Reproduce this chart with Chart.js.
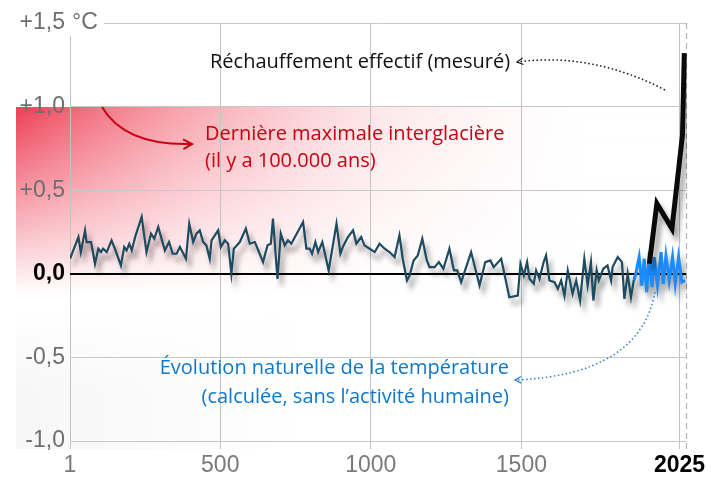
<!DOCTYPE html>
<html lang="fr">
<head>
<meta charset="utf-8">
<title>Température depuis l'an 1</title>
<script src="https://cdn.jsdelivr.net/npm/chart.js@4/dist/chart.umd.min.js"></script>
<style>
  html, body { margin: 0; padding: 0; background: #fff; }
  #wrap { position: relative; width: 711px; height: 477px; }
</style>
</head>
<body>
<div id="wrap"><canvas id="chart"></canvas></div>
<script>
// --- data ------------------------------------------------------------------
const PAST_YEARS = [
  1, 29, 37, 51, 56, 71, 84, 95, 104, 111,
  123, 139, 150, 170, 181, 189, 198, 206, 219, 239,
  255, 270, 281, 294, 316, 330, 342, 355, 366, 386,
  397, 410, 421, 432, 443, 454, 465, 471, 493, 502,
  515, 526, 537, 545, 565, 585, 598, 615, 642, 657,
  668, 675, 690, 701, 714, 725, 736, 775, 786, 797,
  805, 816, 825, 839, 860, 886, 899, 907, 924, 941,
  952, 968, 979, 996, 1013, 1029, 1046, 1062, 1079, 1095,
  1106, 1120, 1129, 1142, 1156, 1171, 1186, 1195, 1212, 1226,
  1241, 1261, 1276, 1287, 1300, 1333, 1361, 1380, 1397, 1408,
  1433, 1460, 1488, 1497, 1508, 1519, 1527, 1541, 1549, 1560,
  1574, 1582, 1593, 1610, 1621, 1632, 1643, 1654, 1670, 1682,
  1695, 1709, 1720, 1731, 1739, 1750, 1757, 1772, 1786, 1798,
  1803, 1820, 1834, 1842, 1853, 1864, 1875, 1886
];
const PAST_TEMP = [
  0.09, 0.22, 0.13, 0.26, 0.19, 0.19, 0.06, 0.15, 0.13, 0.15,
  0.13, 0.20, 0.15, 0.05, 0.16, 0.14, 0.18, 0.14, 0.23, 0.34,
  0.13, 0.24, 0.21, 0.28, 0.14, 0.19, 0.12, 0.12, 0.16, 0.09,
  0.30, 0.19, 0.24, 0.26, 0.19, 0.17, 0.09, 0.20, 0.26, 0.16,
  0.20, 0.18, 0.00, 0.15, 0.19, 0.27, 0.18, 0.19, 0.07, 0.17,
  0.18, 0.33, -0.03, 0.24, 0.17, 0.20, 0.18, 0.31, 0.15, 0.15,
  0.12, 0.19, 0.13, 0.19, 0.02, 0.30, 0.12, 0.16, 0.22, 0.26,
  0.18, 0.22, 0.17, 0.15, 0.13, 0.18, 0.15, 0.13, 0.10, 0.23,
  0.09, -0.04, -0.01, 0.08, 0.11, 0.21, 0.08, 0.04, 0.04, 0.07,
  0.03, 0.15, 0.02, 0.02, -0.05, 0.13, -0.07, 0.07, 0.08, 0.04,
  0.09, -0.14, -0.13, 0.06, -0.01, 0.07, -0.03, -0.06, 0.02, -0.03,
  0.07, 0.11, -0.04, -0.05, -0.09, -0.04, -0.13, 0.02, -0.12, -0.04,
  -0.16, 0.09, -0.07, 0.07, -0.16, 0.02, -0.04, 0.03, 0.05, -0.04,
  0.04, 0.10, 0.07, -0.15, 0.00, -0.14, -0.02, 0.01
];

// natural evolution (computed, without human activity)
const NATURAL_YEARS = [1875, 1891, 1900, 1908, 1916, 1925, 1934, 1941, 1952, 1964, 1971, 1980, 1991, 2002, 2011, 2022, 2033, 2044];
const NATURAL_TEMP  = [-0.04, 0.10, -0.07, 0.09, -0.11, 0.13, -0.08, 0.10, -0.07, 0.13, -0.06, 0.11, -0.04, 0.10, -0.06, 0.10, -0.05, -0.04];

// measured warming
const MEASURED_YEARS = [1925, 1950, 2000, 2035, 2041];
const MEASURED_TEMP  = [0.06, 0.42, 0.27, 0.83, 1.32];

const X_TICKS = [1, 500, 1000, 1500, 2025];
const Y_TICKS = [-1, -0.5, 0, 0.5, 1, 1.5];
const Y_TICK_LABELS = ['-1,0', '-0,5', '0,0', '+0,5', '+1,0', '+1,5'];

const pairs = (xs, ys) => xs.map((x, i) => ({ x, y: ys[i] }));

const TICK_FONT = 'Liberation Sans, Arial, sans-serif';
const NOTE_FONT = '"Open Sans", "Noto Sans", sans-serif';

// pink "interglacial" band + faint hatch behind the plot
const backdrop = {
  id: 'backdrop',
  beforeDraw(chart) {
    const { ctx, chartArea: a, scales: { y } } = chart;
    const left = 16;
    const right = Math.round(a.right);
    const top = Math.round(y.getPixelForValue(1.0));
    const fade = Math.round(y.getPixelForValue(-0.22));
    const bottom = Math.round(a.bottom + 8);
    ctx.save();

    // faint grey wash in the lower left, fading in from the top
    let g = ctx.createLinearGradient(left, 0, 300, 0);
    g.addColorStop(0, 'rgba(222,214,214,0.22)');
    g.addColorStop(1, 'rgba(222,214,214,0)');
    ctx.fillStyle = g;
    ctx.fillRect(left, fade, 300 - left, bottom - fade);
    g = ctx.createLinearGradient(0, fade, 0, fade + 80);
    g.addColorStop(0, 'rgba(255,255,255,1)');
    g.addColorStop(1, 'rgba(255,255,255,0)');
    ctx.fillStyle = g;
    ctx.fillRect(left, fade, 300 - left, 80);

    g = ctx.createLinearGradient(left, 0, 580, 0);
    g.addColorStop(0, 'rgba(236,45,70,0.92)');
    g.addColorStop(0.3, 'rgba(244,110,125,0.62)');
    g.addColorStop(0.65, 'rgba(248,170,180,0.28)');
    g.addColorStop(1, 'rgba(250,200,205,0)');
    ctx.fillStyle = g;
    ctx.fillRect(left, top, right - left, fade - top);
    g = ctx.createLinearGradient(0, top, 0, fade);
    g.addColorStop(0, 'rgba(255,255,255,0)');
    g.addColorStop(0.92, 'rgba(255,255,255,1)');
    g.addColorStop(1, 'rgba(255,255,255,1)');
    ctx.fillStyle = g;
    ctx.fillRect(left, top, right - left, fade - top);
    ctx.restore();
  },
  beforeDatasetsDraw(chart) {
    const { ctx, chartArea: a } = chart;
    ctx.save();
    ctx.strokeStyle = '#b5b5b5';
    ctx.lineWidth = 1.2;
    ctx.setLineDash([6, 4]);
    ctx.beginPath();
    ctx.moveTo(a.right - 0.5, a.top);
    ctx.lineTo(a.right - 0.5, a.bottom + 9);
    ctx.stroke();
    ctx.restore();
  }
};

// soft grey drop shadow under every line
const shadows = {
  id: 'shadows',
  beforeDatasetDraw(chart) {
    const ctx = chart.ctx;
    ctx.save();
    ctx.shadowColor = 'rgba(0,0,0,0.38)';
    ctx.shadowBlur = 5;
    ctx.shadowOffsetX = 4;
    ctx.shadowOffsetY = 7;
  },
  afterDatasetDraw(chart) {
    chart.ctx.restore();
  }
};

function arrow(ctx, x0, y0, cx, cy, x1, y1, color, width, dash) {
  ctx.save();
  ctx.strokeStyle = color;
  ctx.lineWidth = width;
  ctx.setLineDash(dash || []);
  ctx.beginPath();
  ctx.moveTo(x0, y0);
  ctx.quadraticCurveTo(cx, cy, x1, y1);
  ctx.stroke();
  ctx.setLineDash([]);
  const ang = Math.atan2(y1 - cy, x1 - cx);
  const h = dash ? 7 : 10;
  ctx.lineWidth = dash ? 1.2 : width;
  ctx.beginPath();
  ctx.moveTo(x1 - h * Math.cos(ang - 0.5), y1 - h * Math.sin(ang - 0.5));
  ctx.lineTo(x1, y1);
  ctx.lineTo(x1 - h * Math.cos(ang + 0.5), y1 - h * Math.sin(ang + 0.5));
  ctx.stroke();
  ctx.restore();
}

const notes = {
  id: 'notes',
  afterDraw(chart) {
    const { ctx, scales: { y } } = chart;
    ctx.save();

    // "°C" after the top tick, on a white patch that hides the grid
    const yTop = y.getPixelForValue(1.5);
    ctx.fillStyle = '#fff';
    ctx.fillRect(66, yTop - 17, 38, 30);
    ctx.fillStyle = '#6e6e6e';
    ctx.font = '23px ' + TICK_FONT;
    ctx.textAlign = 'left';
    ctx.textBaseline = 'middle';
    ctx.fillText('°C', 72, yTop);

    ctx.font = '20px ' + NOTE_FONT;
    ctx.fillStyle = '#111';
    ctx.fillText('Réchauffement effectif (mesuré)', 210, 62);

    ctx.fillStyle = '#c8000f';
    ctx.fillText('Dernière maximale interglacière', 205, 134);
    ctx.fillText('(il y a 100.000 ans)', 205, 161);

    ctx.fillStyle = '#0b78d0';
    ctx.textAlign = 'right';
    ctx.fillText('Évolution naturelle de la température', 509, 368);
    ctx.fillText('(calculée, sans l’activité humaine)', 509, 397);
    ctx.restore();

    arrow(ctx, 102, 107, 125, 146, 192, 144, '#c8000f', 2);
    arrow(ctx, 665, 90, 592, 52, 517, 62, '#111', 1.5, [1.5, 2.5]);
    arrow(ctx, 655, 292, 640, 375, 515, 380, '#2a7fd4', 1.5, [1.5, 2.5]);
  }
};

new Chart(document.getElementById('chart'), {
  type: 'line',
  data: {
    datasets: [
      {
        label: 'Réchauffement effectif (mesuré)',
        data: pairs(MEASURED_YEARS, MEASURED_TEMP),
        borderColor: '#0a0a0a',
        borderWidth: 5,
        order: 0,
      },
      {
        label: 'Évolution naturelle',
        data: pairs(NATURAL_YEARS, NATURAL_TEMP),
        borderColor: '#1a8cff',
        borderWidth: 3,
        order: 1,
      },
      {
        label: 'Reconstruction',
        data: pairs(PAST_YEARS, PAST_TEMP),
        borderColor: '#1d4b60',
        borderWidth: 2.2,
        order: 2,
      },
    ]
  },
  options: {
    responsive: true,
    maintainAspectRatio: false,
    animation: false,
    events: [],
    elements: {
      point: { radius: 0 },
      line: { tension: 0, borderJoinStyle: 'miter', fill: false },
    },
    layout: { padding: { top: 23, right: 24, bottom: 0, left: 0 } },
    plugins: { legend: { display: false }, tooltip: { enabled: false } },
    scales: {
      x: {
        type: 'linear',
        min: 1,
        max: 2050,
        afterBuildTicks: (s) => { s.ticks = X_TICKS.map(v => ({ value: v })); },
        afterFit: (s) => { s.height = 36; },
        border: { display: false },
        grid: { color: '#c2c2c2', lineWidth: 1, tickLength: 8 },
        ticks: {
          padding: 3,
          maxRotation: 0,
          autoSkip: false,
          callback: (v) => String(v),
          color: (c) => c.tick && c.tick.value === 2025 ? '#000' : '#7a7a7a',
          font: (c) => ({
            family: TICK_FONT, size: 23,
            weight: c.tick && c.tick.value === 2025 ? 'bold' : 'normal'
          }),
        },
      },
      y: {
        min: -1,
        max: 1.5,
        afterBuildTicks: (s) => { s.ticks = Y_TICKS.map(v => ({ value: v })); },
        afterFit: (s) => { s.width = 70; },
        border: { display: false },
        grid: {
          drawTicks: false,
          color: (c) => c.tick && c.tick.value === 0 ? '#000' : '#c8c8c8',
          lineWidth: (c) => c.tick && c.tick.value === 0 ? 2 : 1,
        },
        ticks: {
          padding: 5,
          autoSkip: false,
          callback: (v) => Y_TICK_LABELS[Y_TICKS.indexOf(v)],
          color: (c) => c.tick && c.tick.value === 0 ? '#000' : '#6e6e6e',
          font: (c) => ({
            family: TICK_FONT, size: 23,
            weight: c.tick && c.tick.value === 0 ? 'bold' : 'normal'
          }),
        },
      },
    },
  },
  plugins: [backdrop, shadows, notes],
});
</script>
</body>
</html>
